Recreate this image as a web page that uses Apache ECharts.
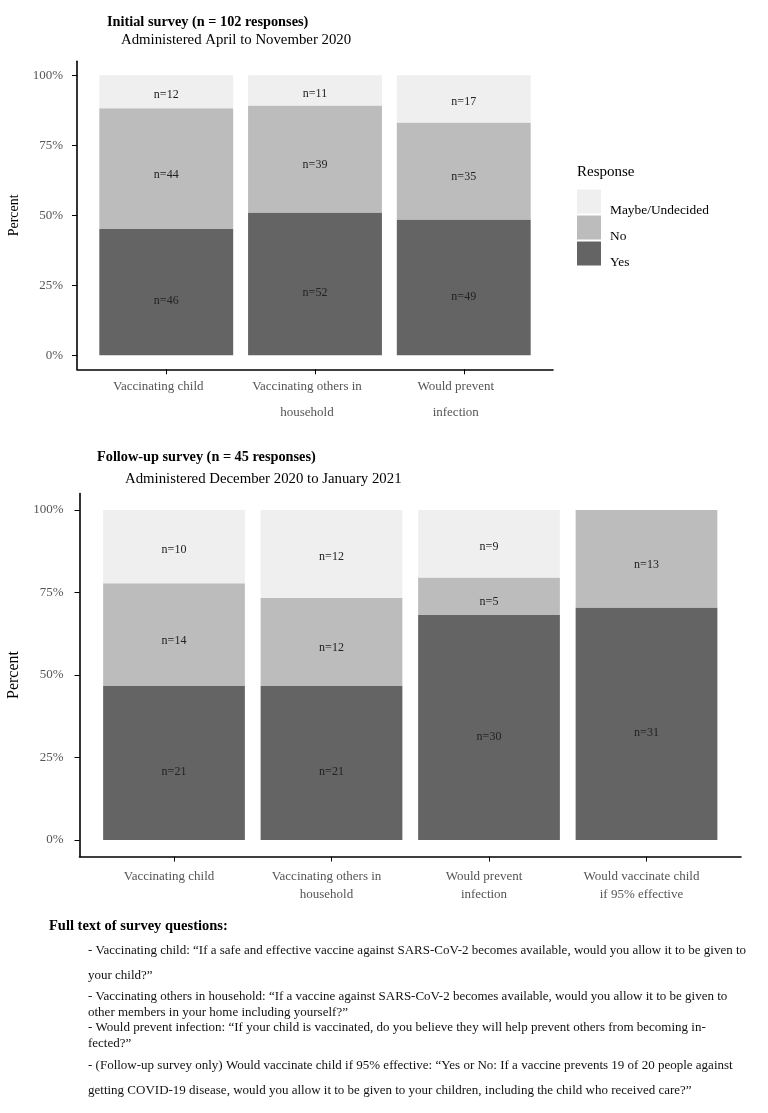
<!DOCTYPE html>
<html>
<head>
<meta charset="utf-8">
<script src="https://cdn.jsdelivr.net/npm/echarts@6/dist/echarts.min.js"></script>
<style>
html,body{margin:0;padding:0;background:#fff;}
#chart{width:768px;height:1113px;}
</style>
</head>
<body>
<div id="chart"></div>
<script>
// ---- data ----
const responses = ['Yes', 'No', 'Maybe/Undecided'];
const legendOrder = ['Maybe/Undecided', 'No', 'Yes'];

const initialCategories = ['Vaccinating child', 'Vaccinating others in\nhousehold', 'Would prevent\ninfection'];
const initialYes = [46, 52, 49];
const initialNo = [44, 39, 35];
const initialMaybe = [12, 11, 17];

const followCategories = ['Vaccinating child', 'Vaccinating others in\nhousehold', 'Would prevent\ninfection', 'Would vaccinate child\nif 95% effective'];
const followYes = [21, 21, 30, 31];
const followNo = [14, 12, 5, 13];
const followMaybe = [10, 12, 9, 0];

const percentTicks = [0, 0.25, 0.5, 0.75, 1];

const initialTitle = 'Initial survey (n = 102 responses)';
const initialSubtitle = 'Administered April to November 2020';
const followTitle = 'Follow-up survey (n = 45 responses)';
const followSubtitle = 'Administered December 2020 to January 2021';

const noteHeading = 'Full text of survey questions:';
const noteLines = [
  '- Vaccinating child: \u201cIf a safe and effective vaccine against SARS-CoV-2 becomes available, would you allow it to be given to',
  'your child?\u201d',
  '- Vaccinating others in household: \u201cIf a vaccine against SARS-CoV-2 becomes available, would you allow it to be given to',
  'other members in your home including yourself?\u201d',
  '- Would prevent infection: \u201cIf your child is vaccinated, do you believe they will help prevent others from becoming in-',
  'fected?\u201d',
  '- (Follow-up survey only) Would vaccinate child if 95% effective: \u201cYes or No: If a vaccine prevents 19 of 20 people against',
  'getting COVID-19 disease, would you allow it to be given to your children, including the child who received care?\u201d'
];

// ---- styling ----
const FONT = "'Liberation Serif', 'Times New Roman', serif";
const colors = { 'Yes': '#646464', 'No': '#bcbcbc', 'Maybe/Undecided': '#efefef' };
const labelShift = { 'Yes': 9, 'No': 6, 'Maybe/Undecided': 3 };
const noteY = [950.7, 976, 996.7, 1012.7, 1028, 1044, 1065.7, 1090.7];

function buildSeries(countsByResp, gridIdx, stackName) {
  const n = countsByResp[0].length;
  const totals = [];
  for (let i = 0; i < n; i++) totals.push(countsByResp[0][i] + countsByResp[1][i] + countsByResp[2][i]);
  return responses.map((r, k) => ({
    name: r,
    type: 'bar',
    stack: stackName,
    xAxisIndex: gridIdx,
    yAxisIndex: gridIdx,
    barWidth: '90%',
    encode: { x: 1, y: 0 },
    itemStyle: { color: colors[r] },
    label: {
      show: true,
      position: 'inside',
      offset: [0, labelShift[r]],
      color: '#222',
      fontSize: 12,
      fontFamily: FONT,
      formatter: p => (countsByResp[k][p.dataIndex] > 0 ? 'n=' + countsByResp[k][p.dataIndex] : '')
    },
    // [percent, category position]
    data: countsByResp[k].map((c, i) => [c / totals[i], i + 1])
  }));
}

function xAxisFor(gridIdx, cats, lineHeight, margin, padRight) {
  const pos = cats.map((c, i) => i + 1);
  return {
    type: 'value',
    gridIndex: gridIdx,
    min: 0.4,
    max: cats.length + 0.6,
    splitLine: { show: false },
    axisLine: { show: true, onZero: false, lineStyle: { color: '#000', width: 1.6 } },
    axisTick: { show: true, length: 5, customValues: pos, lineStyle: { color: '#000', width: 1 } },
    axisLabel: {
      show: true,
      customValues: pos,
      margin: margin,
      color: '#555',
      fontSize: 13,
      fontFamily: FONT,
      lineHeight: lineHeight,
      align: 'center',
      padding: [0, padRight, 0, 0],
      formatter: v => cats[Math.round(v) - 1] || ''
    }
  };
}

function yAxisFor(gridIdx, nameSize, nameGap, labelMargin) {
  return {
    type: 'value',
    gridIndex: gridIdx,
    min: -0.05,
    max: 1.05,
    name: 'Percent',
    nameLocation: 'middle',
    nameGap: nameGap,
    nameTextStyle: { color: '#000', fontSize: nameSize, fontFamily: FONT },
    splitLine: { show: false },
    axisLine: { show: true, onZero: false, lineStyle: { color: '#000', width: 1.6 } },
    axisTick: { show: true, length: 5, customValues: percentTicks, lineStyle: { color: '#000', width: 1 } },
    axisLabel: {
      show: true,
      customValues: percentTicks,
      margin: labelMargin,
      color: '#555',
      fontSize: 13,
      fontFamily: FONT,
      formatter: v => Math.round(v * 100) + '%'
    }
  };
}

const chart = echarts.init(document.getElementById('chart'), null, { renderer: 'canvas' });

const graphics = [
  { type: 'text', x: 577, y: 171.7, style: { text: 'Response', fontSize: 15, fontFamily: FONT, fill: '#000', verticalAlign: 'middle' } },
  { type: 'text', x: 49, y: 926, style: { text: noteHeading, fontSize: 14.5, fontWeight: 'bold', fontFamily: FONT, fill: '#000', verticalAlign: 'middle' } }
].concat(noteLines.map((t, i) => ({
  type: 'text', x: 88, y: noteY[i],
  style: { text: t, fontSize: 13, fontFamily: FONT, fill: '#111', verticalAlign: 'middle' }
})));

const option = {
  backgroundColor: '#fff',
  animation: false,
  textStyle: { fontFamily: FONT },
  title: [
    { text: initialTitle, left: 107, top: 13.5, padding: 0, textStyle: { fontSize: 14.3, fontWeight: 'bold', color: '#000', fontFamily: FONT, lineHeight: 17 } },
    { text: initialSubtitle, left: 121, top: 31, padding: 0, textStyle: { fontSize: 14.8, fontWeight: 'normal', color: '#000', fontFamily: FONT, lineHeight: 18 } },
    { text: followTitle, left: 97, top: 448.5, padding: 0, textStyle: { fontSize: 14.3, fontWeight: 'bold', color: '#000', fontFamily: FONT, lineHeight: 17 } },
    { text: followSubtitle, left: 125, top: 470, padding: 0, textStyle: { fontSize: 14.8, fontWeight: 'normal', color: '#000', fontFamily: FONT, lineHeight: 18 } }
  ],
  legend: {
    data: legendOrder,
    orient: 'vertical',
    left: 577,
    top: 186.5,
    padding: 0,
    itemWidth: 24,
    itemHeight: 24,
    itemGap: -4,
    icon: 'rect',
    selectedMode: false,
    formatter: '{a|{name}}',
    textStyle: {
      fontSize: 13.4, fontFamily: FONT, color: '#000',
      rich: {
        a: { fontSize: 13.4, fontFamily: FONT, color: '#000', lineHeight: 15, padding: [17, 0, 0, 4] }
      }
    }
  },
  grid: [
    { left: 77, top: 61.3, width: 476, height: 308, containLabel: false, outerBoundsMode: 'none' },
    { left: 79.5, top: 493.5, width: 661.5, height: 363, containLabel: false, outerBoundsMode: 'none' }
  ],
  xAxis: [
    xAxisFor(0, initialCategories, 26, 4, 16),
    xAxisFor(1, followCategories, 18, 11, 10)
  ],
  yAxis: [
    yAxisFor(0, 14, 52, 14),
    yAxisFor(1, 16, 48, 16)
  ],
  series: [].concat(
    buildSeries([initialYes, initialNo, initialMaybe], 0, 'initial'),
    buildSeries([followYes, followNo, followMaybe], 1, 'follow')
  ),
  graphic: graphics
};

chart.setOption(option);
</script>
</body>
</html>
